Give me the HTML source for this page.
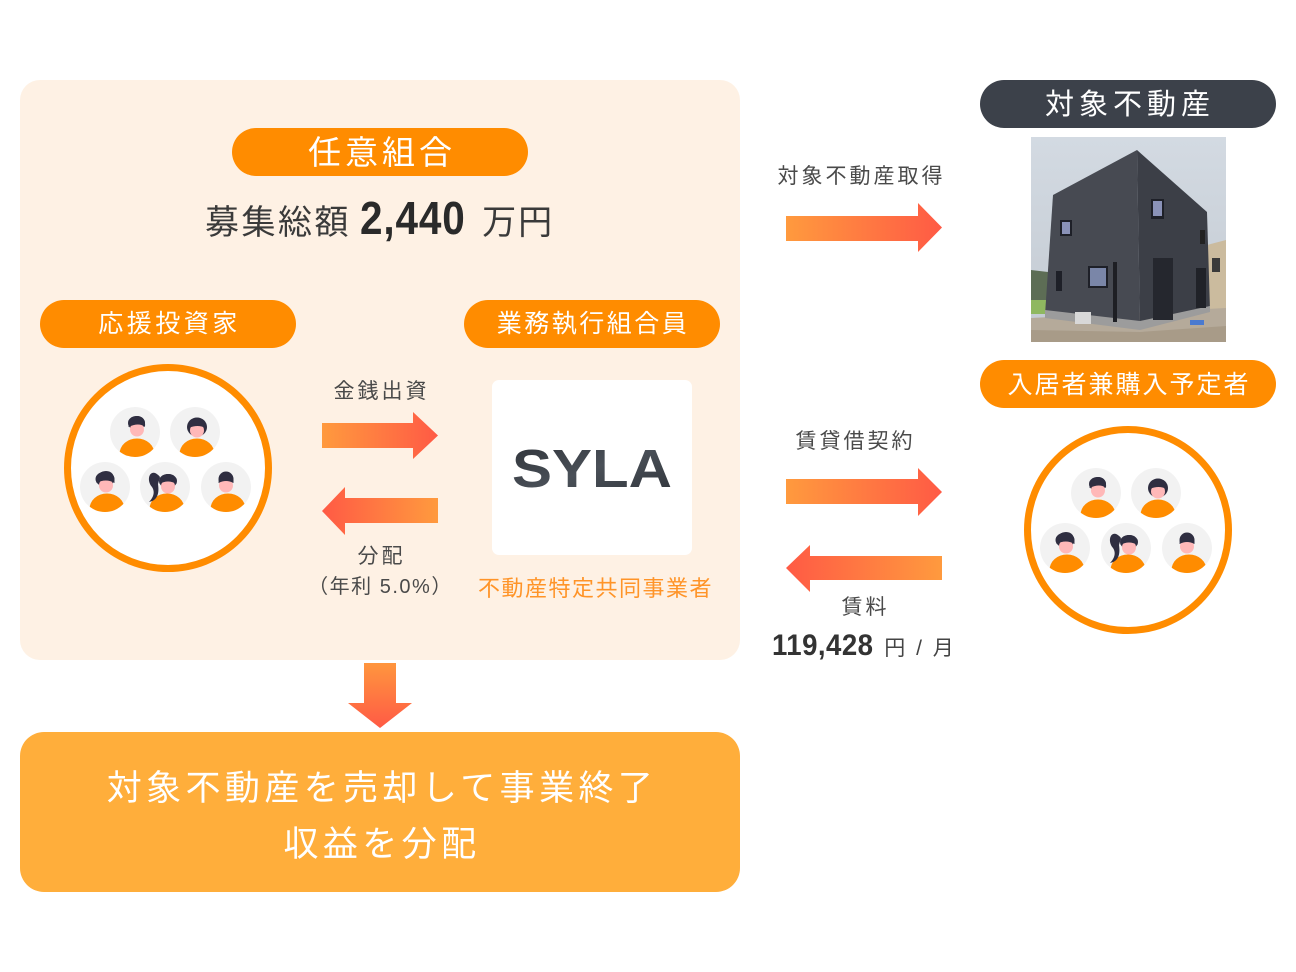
<!DOCTYPE html>
<html><head><meta charset="utf-8"><style>
*{margin:0;padding:0;box-sizing:border-box}
body{width:1296px;height:972px;background:#fff;position:relative;overflow:hidden;font-family:"Liberation Sans","Noto Sans CJK JP",sans-serif}
.t{position:absolute;white-space:nowrap;text-align:center;font-family:"Liberation Sans","Noto Sans CJK JP",sans-serif}
.w{color:#fff}
.g{color:#4a4a4a}
</style></head><body>
<svg width="1296" height="972" viewBox="0 0 1296 972" style="position:absolute;left:0;top:0">
<defs>
<linearGradient id="gr" x1="0" y1="0" x2="1" y2="0"><stop offset="0" stop-color="#ff9a3e"/><stop offset="1" stop-color="#ff5a45"/></linearGradient>
<linearGradient id="gl" x1="1" y1="0" x2="0" y2="0"><stop offset="0" stop-color="#ff9a3e"/><stop offset="1" stop-color="#ff5a45"/></linearGradient>
<linearGradient id="gd" x1="0" y1="0" x2="0" y2="1"><stop offset="0" stop-color="#ff963e"/><stop offset="1" stop-color="#ff5a45"/></linearGradient>
<linearGradient id="sy" x1="0" y1="0" x2="1" y2="1"><stop offset="0" stop-color="#2e3238"/><stop offset="0.5" stop-color="#4a5058"/><stop offset="1" stop-color="#30343a"/></linearGradient>
<linearGradient id="sky" x1="0" y1="0" x2="0" y2="1"><stop offset="0" stop-color="#d3dae2"/><stop offset="1" stop-color="#c3cad2"/></linearGradient>
<clipPath id="av"><circle r="25"/></clipPath>
<clipPath id="ph"><rect x="1031" y="137" width="195" height="205"/></clipPath>
<g id="body"><circle r="25" fill="#f2f2f2"/><g clip-path="url(#av)"><ellipse cx="2" cy="22" rx="17.5" ry="15.5" fill="#ff8c00"/></g></g>
<g id="m1"><use href="#body"/><ellipse cx="1.5" cy="-9" rx="8.5" ry="7" fill="#2f2e41"/><circle cx="2" cy="-2.5" r="7" fill="#ffb8b8"/><path d="M-6.5,-5 Q-6,-16 3,-16 Q11,-15 10,-5 Q4,-10 -6.5,-5Z" fill="#2f2e41"/></g>
<g id="w1"><use href="#body"/><ellipse cx="2" cy="-5" rx="10" ry="9.5" fill="#2f2e41"/><circle cx="2" cy="-1.5" r="7" fill="#ffb8b8"/><path d="M-6.5,-4 Q-4,-14 3,-14 Q11,-13 10.5,-4 Q3,-8 -6.5,-4Z" fill="#2f2e41"/></g>
<g id="m2"><use href="#body"/><ellipse cx="0" cy="-8" rx="9.5" ry="7.5" fill="#2f2e41"/><circle cx="1" cy="-1.5" r="7" fill="#ffb8b8"/><path d="M-8.5,-4 Q-8,-16 1,-16 Q10,-16 9.5,-4 Q1,-9 -8.5,-4Z" fill="#2f2e41"/></g>
<g id="w2"><use href="#body"/><path d="M-5,-10 C-14,-21 -20,-8 -13,0 C-9,6 -13,12 -16,15 C-6,13 -6,4 -7,-3 Z" fill="#2f2e41"/><ellipse cx="3" cy="-6" rx="9" ry="7" fill="#2f2e41"/><circle cx="3" cy="-0.5" r="7" fill="#ffb8b8"/><path d="M-5.5,-3 Q-3,-13 3,-13 Q12,-13 11.5,-3 Q3,-8 -5.5,-3Z" fill="#2f2e41"/></g>
<g id="m3"><use href="#body"/><ellipse cx="0" cy="-8" rx="7.5" ry="7.5" fill="#2f2e41"/><circle cx="0" cy="-1.5" r="7" fill="#ffb8b8"/><path d="M-7.5,-4 Q-7,-15 0,-15 Q8,-15 7.5,-4 Q0,-8 -7.5,-4Z" fill="#2f2e41"/></g>
</defs>

<rect x="20" y="80" width="720" height="580" rx="20" fill="#fef1e4"/>
<rect x="232" y="128" width="296" height="48" rx="24" fill="#ff8c00"/>
<rect x="40" y="300" width="256" height="48" rx="24" fill="#ff8c00"/>
<rect x="464" y="300" width="256" height="48" rx="24" fill="#ff8c00"/>

<circle cx="168" cy="468" r="100.5" fill="#fff" stroke="#ff8c00" stroke-width="7"/>
<use href="#m1" x="135" y="432"/>
<use href="#w1" x="195" y="432"/>
<use href="#m2" x="105" y="487"/>
<use href="#w2" x="165" y="487"/>
<use href="#m3" x="226" y="487"/>

<polygon points="322,423 413,423 413,412 438,435.5 413,459 413,448 322,448" fill="url(#gr)"/>
<polygon points="438,498 345,498 345,487 322,511 345,535 345,523 438,523" fill="url(#gl)"/>

<rect x="492" y="380" width="200" height="175" rx="7" fill="#fff"/>
<text x="512" y="487" font-family="Liberation Sans, sans-serif" font-weight="bold" font-size="54" textLength="160" lengthAdjust="spacingAndGlyphs" fill="url(#sy)">SYLA</text>

<rect x="980" y="80" width="296" height="48" rx="24" fill="#3c414a"/>
<rect x="980" y="360" width="296" height="48" rx="24" fill="#ff8c00"/>

<g clip-path="url(#ph)">
<rect x="1031" y="137" width="195" height="205" fill="url(#sky)"/>
<polygon points="1031,270 1048,272 1050,305 1031,305" fill="#5d6d55"/>
<rect x="1031" y="300" width="20" height="14" fill="#8fb860"/>
<polygon points="1207,245 1226,240 1226,320 1208,318" fill="#cbbb9e"/>
<rect x="1212" y="258" width="8" height="14" fill="#3a3a3a"/>
<polygon points="1031,318 1226,308 1226,342 1031,342" fill="#b5aa9a"/>
<polygon points="1031,330 1140,332 1226,326 1226,342 1031,342" fill="#a89b88"/>
<polygon points="1053,195 1137,150 1140,327 1045,315" fill="#474a52"/>
<polygon points="1137,150 1207,212 1210,310 1140,327" fill="#3c3f47"/>
<polygon points="1045,310 1140,321 1210,306 1210,312 1140,330 1045,318" fill="#9c9c9c"/>
<rect x="1060" y="220" width="12" height="16" fill="#1e2028"/><rect x="1062" y="222" width="8" height="12" fill="#8a92b8"/>
<rect x="1151" y="199" width="13" height="20" fill="#1e2028"/><rect x="1153" y="201" width="9" height="15" fill="#8a92b8"/>
<rect x="1088" y="266" width="20" height="22" fill="#1e2028"/><rect x="1090" y="268" width="16" height="18" fill="#7a86a8"/>
<rect x="1056" y="271" width="6" height="20" fill="#1e2028"/>
<rect x="1113" y="262" width="4" height="60" fill="#1e1f24"/>
<rect x="1153" y="258" width="20" height="62" fill="#25272e"/>
<rect x="1196" y="268" width="10" height="40" fill="#202228"/>
<rect x="1200" y="230" width="5" height="14" fill="#222"/>
<rect x="1075" y="312" width="16" height="12" fill="#d8d8d8"/>
<rect x="1190" y="320" width="14" height="5" fill="#4a7ad0"/>
</g>

<polygon points="786,216 918,216 918,203 942,227.5 918,252 918,241 786,241" fill="url(#gr)"/>
<polygon points="786,479 918,479 918,468 942,492 918,516 918,504 786,504" fill="url(#gr)"/>
<polygon points="942,556 810,556 810,545 786,568 810,592 810,580 942,580" fill="url(#gl)"/>

<circle cx="1128" cy="530" r="100.5" fill="#fff" stroke="#ff8c00" stroke-width="7"/>
<use href="#m1" x="1096" y="493"/>
<use href="#w1" x="1156" y="493"/>
<use href="#m2" x="1065" y="548"/>
<use href="#w2" x="1126" y="548"/>
<use href="#m3" x="1187" y="548"/>

<polygon points="364,663 396,663 396,703 412,703 380,728 348,703 364,703" fill="url(#gd)"/>
<rect x="20" y="732" width="720" height="160" rx="24" fill="#ffae3b"/>
</svg>

<div class="t w" style="left:232px;top:129px;width:296px;height:48px;line-height:48px;font-size:33px;letter-spacing:4px;padding-left:4px">任意組合</div>

<div class="t" style="left:205px;top:191px;height:54px;line-height:54px;text-align:left;color:#3a3a3a">
<span style="font-size:34px;letter-spacing:2.5px">募集総額</span><span style="display:inline-block;transform:scaleX(0.88);transform-origin:left center;font-size:46px;font-weight:bold;color:#2a2a2a;margin-left:9px;letter-spacing:1px">2,440</span><span style="font-size:34px;letter-spacing:2px;margin-left:2px">万円</span>
</div>

<div class="t w" style="left:40px;top:300px;width:256px;height:48px;line-height:48px;font-size:25px;letter-spacing:3.5px;padding-left:3px">応援投資家</div>
<div class="t w" style="left:464px;top:300px;width:256px;height:48px;line-height:48px;font-size:25px;letter-spacing:2.5px;padding-left:2px">業務執行組合員</div>

<div class="t g" style="left:300px;top:377px;width:160px;height:30px;line-height:30px;font-size:21px;letter-spacing:3px;padding-left:3px">金銭出資</div>
<div class="t g" style="left:300px;top:542px;width:160px;height:30px;line-height:30px;font-size:21px;letter-spacing:3px;padding-left:3px">分配</div>
<div class="t g" style="left:290px;top:572px;width:180px;height:30px;line-height:30px;font-size:20px;letter-spacing:1.5px;padding-left:1px">（年利 5.0%）</div>

<div class="t" style="left:470px;top:574px;width:250px;height:30px;line-height:30px;font-size:22px;letter-spacing:1.5px;padding-left:1px;color:#ff9428">不動産特定共同事業者</div>

<div class="t w" style="left:980px;top:81px;width:296px;height:48px;line-height:48px;font-size:29px;letter-spacing:5px;padding-left:4px">対象不動産</div>
<div class="t g" style="left:760px;top:162px;width:200px;height:30px;line-height:30px;font-size:21px;letter-spacing:3px;padding-left:3px">対象不動産取得</div>

<div class="t w" style="left:980px;top:361px;width:296px;height:48px;line-height:48px;font-size:25px;letter-spacing:2px;padding-left:2px">入居者兼購入予定者</div>

<div class="t g" style="left:774px;top:427px;width:160px;height:30px;line-height:30px;font-size:21px;letter-spacing:3px;padding-left:3px">賃貸借契約</div>
<div class="t g" style="left:784px;top:593px;width:160px;height:30px;line-height:30px;font-size:21px;letter-spacing:3px;padding-left:3px">賃料</div>
<div class="t" style="left:772px;top:626px;height:40px;line-height:40px;text-align:left;color:#333">
<span style="display:inline-block;transform:scaleX(0.92);transform-origin:left center;font-size:30px;font-weight:bold;letter-spacing:0.5px">119,428</span><span style="font-size:21px;margin-left:2px;letter-spacing:2.5px;color:#444">円 / 月</span>
</div>

<div class="t w" style="left:20px;top:767px;width:720px;height:44px;line-height:44px;font-size:35px;letter-spacing:4.4px;padding-left:4px">対象不動産を売却して事業終了</div>
<div class="t w" style="left:20px;top:823px;width:720px;height:44px;line-height:44px;font-size:35px;letter-spacing:4.4px;padding-left:4px">収益を分配</div>
</body></html>
